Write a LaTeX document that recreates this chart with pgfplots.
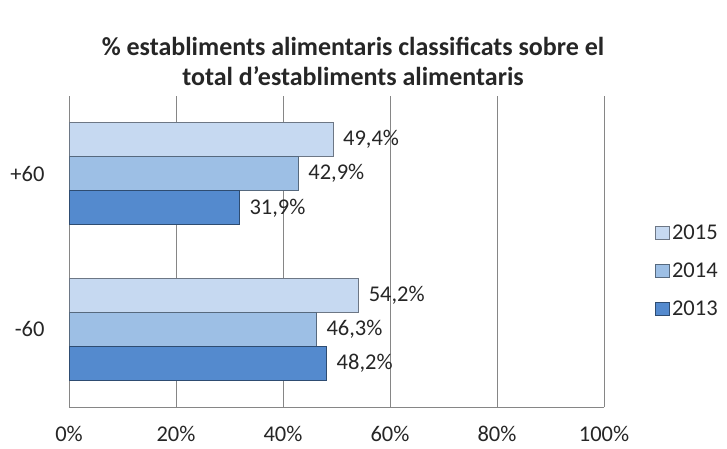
\documentclass[border=0pt]{standalone}
\usepackage{pgfplots}
\pgfplotsset{compat=1.18}
\usepackage{fontspec}
\setmainfont{Carlito}
\definecolor{c15}{RGB}{198,217,241}
\definecolor{c14}{RGB}{157,191,229}
\definecolor{c13}{RGB}{84,138,206}
\definecolor{gridc}{RGB}{134,134,134}
\begin{document}
\begin{tikzpicture}[x=1pt,y=1pt]
\useasboundingbox (0,0) rectangle (727,448);
\node[font=\bfseries\fontsize{26}{30}\selectfont, align=center, text=black!85] at (353,387) {\% establiments alimentaris classificats sobre el\\total d'establiments alimentaris};
\begin{axis}[
  at={(69pt,41pt)}, anchor=south west,
  scale only axis, width=535pt, height=311pt,
  xbar, bar width=0.219,
  xmin=0, xmax=100, ymin=-0.5, ymax=1.5,
  xtick={0,20,...,100},
  xticklabel={\pgfmathprintnumber{\tick}\%},
  ytick={0,1}, yticklabels={-60,+60},
  major tick length=0pt,
  axis x line*=bottom, axis y line*=left,
  axis line style={gridc, line width=1pt},
  xmajorgrids, grid style={gridc, line width=0.8pt},
  /pgf/number format/assume math mode=true,
  tick label style={font=\fontsize{22.5}{26}\selectfont, text=black!85},
  xticklabel style={yshift=-16pt},
  yticklabel style={xshift=-21pt},
  nodes near coords={\pgfmathprintnumber[fixed,precision=1,fixed zerofill,use comma]{\pgfplotspointmeta}\%},
  nodes near coords style={font=\fontsize{22.5}{26}\selectfont, text=black!85, anchor=west, xshift=6pt},
  legend style={at={(1.095,0.437)}, anchor=west, draw=none, fill=none, font=\fontsize{22.5}{26}\selectfont, text=black!85, row sep=18pt, inner sep=0pt},
  legend cell align=left,
  legend image code/.code={\fill[#1] (0pt,-6.5pt) rectangle (14pt,6.5pt);},
  clip=false,
]
\addplot[fill=c15, draw=c15!55!black, line width=1pt, bar shift=0.219] coordinates {(54.2,0) (49.4,1)};
\addplot[fill=c14, draw=c14!55!black, line width=1pt, bar shift=0] coordinates {(46.3,0) (42.9,1)};
\addplot[fill=c13, draw=c13!55!black, line width=1pt, bar shift=-0.219] coordinates {(48.2,0) (31.9,1)};
\legend{2015,2014,2013}
\end{axis}
\end{tikzpicture}
\end{document}
